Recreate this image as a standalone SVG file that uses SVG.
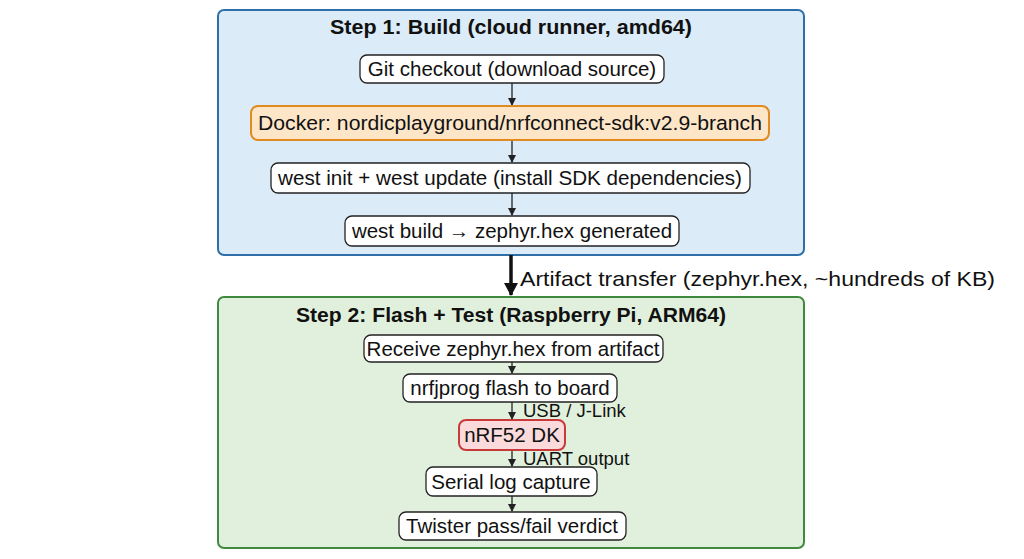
<svg xmlns="http://www.w3.org/2000/svg" width="1024" height="559" viewBox="0 0 1024 559">
<defs>
<marker id="a" markerWidth="8" markerHeight="8" refX="7" refY="4" orient="auto" markerUnits="userSpaceOnUse"><path d="M0,0 L8,4 L0,8 z" fill="#222"/></marker>
<marker id="b" markerWidth="14" markerHeight="14" refX="12" refY="7" orient="auto" markerUnits="userSpaceOnUse"><path d="M0,0 L13,7 L0,14 z" fill="#111"/></marker>
<style>
text{font-family:"Liberation Sans",Arial,sans-serif;fill:#111;text-anchor:middle}
.n rect{fill:#fff;stroke:#222;stroke-width:1.3}
.n text{font-size:20.5px}
.t{font-size:20px;font-weight:bold}
.c line{stroke:#222;stroke-width:1.3;marker-end:url(#a)}
.l{font-size:18.5px;text-anchor:start}
</style>
</defs>
<rect width="1024" height="559" fill="#fff"/>
<g id="step1"><rect x="218" y="10" width="586" height="245" rx="6" fill="#dcebf8" stroke="#2f6fa8" stroke-width="2"/><text class="t" x="511" y="34" textLength="362" lengthAdjust="spacingAndGlyphs">Step 1: Build (cloud runner, amd64)</text></g>
<g id="step2"><rect x="218" y="297" width="586" height="251" rx="6" fill="#e1f0dd" stroke="#3f8a3f" stroke-width="2"/><text class="t" x="511" y="322" textLength="430" lengthAdjust="spacingAndGlyphs">Step 2: Flash + Test (Raspberry Pi, ARM64)</text></g>
<g class="c" id="connectors">
<line x1="512" y1="83" x2="512" y2="105"/>
<line x1="512" y1="140" x2="512" y2="162"/>
<line x1="512" y1="193" x2="512" y2="215"/>
<line x1="511" y1="255" x2="511" y2="295" style="stroke:#111;stroke-width:3.5;marker-end:url(#b)"/>
<line x1="512" y1="362" x2="512" y2="373"/>
<line x1="512" y1="402" x2="512" y2="419"/>
<line x1="512" y1="450" x2="512" y2="466"/>
<line x1="512" y1="496" x2="512" y2="511"/>
<text class="l" x="520" y="286" style="font-size:21px" textLength="475" lengthAdjust="spacingAndGlyphs">Artifact transfer (zephyr.hex,  ~hundreds of KB)</text>
<text class="l" x="523" y="417">USB / J-Link</text>
<text class="l" x="523" y="465">UART output</text>
</g>
<g class="n" id="git"><rect x="360" y="55" width="304" height="28" rx="7"/><text x="512" y="76">Git checkout (download source)</text></g>
<g class="n" id="docker"><rect x="251" y="106" width="518" height="34" rx="7" style="fill:#fde6c8;stroke:#e08a20;stroke-width:2"/><text x="510" y="130" textLength="504" lengthAdjust="spacingAndGlyphs">Docker: nordicplayground/nrfconnect-sdk:v2.9-branch</text></g>
<g class="n" id="westinit"><rect x="271" y="163" width="479" height="30" rx="7"/><text x="510" y="185" textLength="464" lengthAdjust="spacingAndGlyphs">west init + west update (install SDK dependencies)</text></g>
<g class="n" id="westbuild"><rect x="345" y="216" width="334" height="30" rx="7"/><text x="512" y="238">west build → zephyr.hex generated</text></g>
<g class="n" id="receive"><rect x="364" y="335" width="299" height="27" rx="7"/><text x="513" y="356">Receive zephyr.hex from artifact</text></g>
<g class="n" id="flash"><rect x="403" y="374" width="214" height="28" rx="7"/><text x="510" y="395">nrfjprog flash to board</text></g>
<g class="n" id="dk"><rect x="459" y="420" width="106" height="30" rx="7" style="fill:#fadada;stroke:#c83a3a;stroke-width:2"/><text x="512" y="442">nRF52 DK</text></g>
<g class="n" id="serial"><rect x="426" y="467" width="171" height="29" rx="7"/><text x="511" y="489">Serial log capture</text></g>
<g class="n" id="twister"><rect x="399" y="512" width="227" height="28" rx="7"/><text x="512" y="533">Twister pass/fail verdict</text></g>
</svg>
